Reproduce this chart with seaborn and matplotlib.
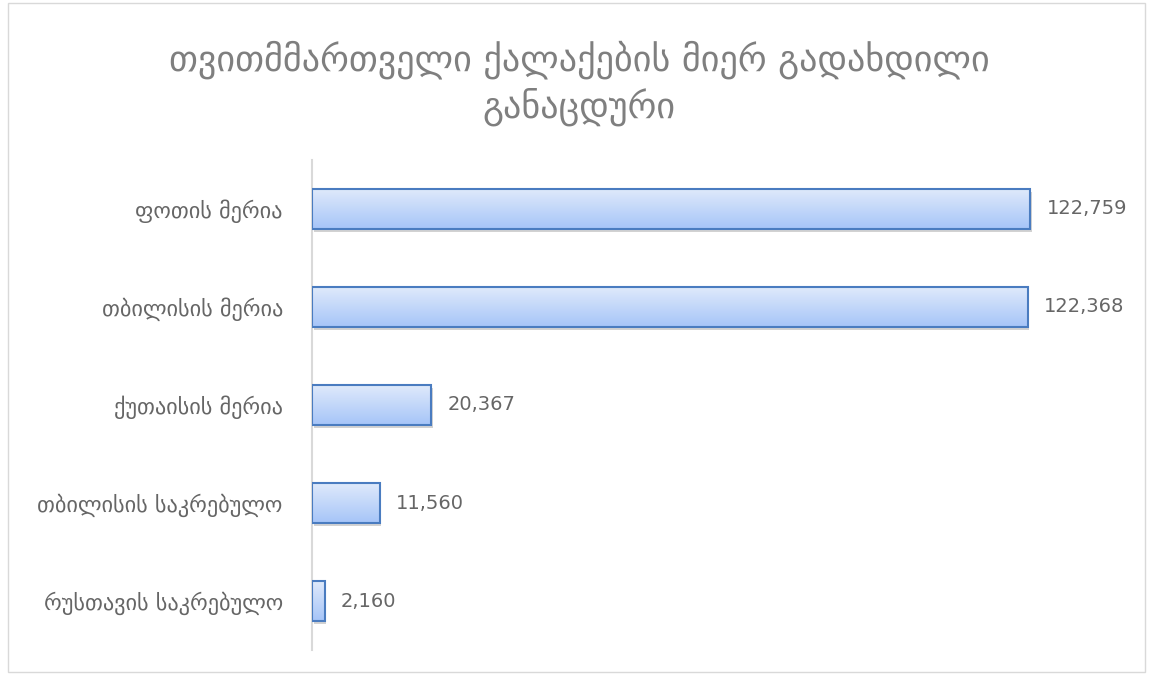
import numpy as np
import pandas as pd
import matplotlib
matplotlib.use('Agg')
import matplotlib.pyplot as plt
import seaborn as sns
from matplotlib.colors import LinearSegmentedColormap
from matplotlib.patches import Rectangle

# data
offices = ['ფოთის მერია', 'თბილისის მერია', 'ქუთაისის მერია',
           'თბილისის საკრებულო', 'რუსთავის საკრებულო']
amounts = [122759, 122368, 20367, 11560, 2160]
title = 'თვითმმართველი ქალაქების მიერ გადახდილი\nგანაცდური'

df = pd.DataFrame({'office': offices, 'amount': amounts})

sns.set_style('white')
plt.rcParams['font.family'] = ['DejaVu Sans']

fig = plt.figure(figsize=(11.51, 6.75), dpi=100)
ax = fig.add_axes([0.271, 0.037, 0.7115, 0.726])

sns.barplot(data=df, x='amount', y='office', orient='h', width=0.41,
            color='#c6d9f7', edgecolor='#4a7cc0', linewidth=1.5, ax=ax, zorder=3)

# gradient fill + soft shadow per bar
grad = LinearSegmentedColormap.from_list('g', ['#e0eafb', '#a6c5f8'])
for p in ax.patches:
    x0, y0 = p.get_x(), p.get_y()
    w, h = p.get_width(), p.get_height()
    sh = Rectangle((x0 + 300, y0 + 0.03), w, h, facecolor='#7f7f7f', alpha=0.35,
                   edgecolor='none', zorder=2)
    ax.add_patch(sh)
    im = ax.imshow(np.linspace(0, 1, 64).reshape(-1, 1), cmap=grad, aspect='auto',
                   extent=(x0, x0 + w, y0 + h, y0), zorder=3.5)
    im.set_clip_path(p)
    p.set_facecolor('none')
    p.set_zorder(4)
ax.set_xlim(0, 140000)
ax.set_ylim(4.5, -0.5)

for i, v in enumerate(amounts):
    ax.text(v + 2800, i, f'{v:,}', va='center', ha='left', fontsize=14, color='#666666')

ax.set_xlabel('')
ax.set_ylabel('')
ax.set_xticks([])
ax.tick_params(axis='y', length=0, pad=21, labelsize=16, labelcolor='#666666')
for s in ['top', 'right', 'bottom']:
    ax.spines[s].set_visible(False)
ax.spines['left'].set_color('#d9d9d9')
ax.spines['left'].set_linewidth(1.5)

fig.text(0.503, 0.877, title, ha='center', va='center', fontsize=26,
         color='#7f7f7f', linespacing=1.3)

fig.patches.append(Rectangle((0.007, 0.004), 0.988, 0.992, transform=fig.transFigure,
                             fill=False, edgecolor='#d9d9d9', linewidth=1))

fig.savefig('out.png', dpi=100)
